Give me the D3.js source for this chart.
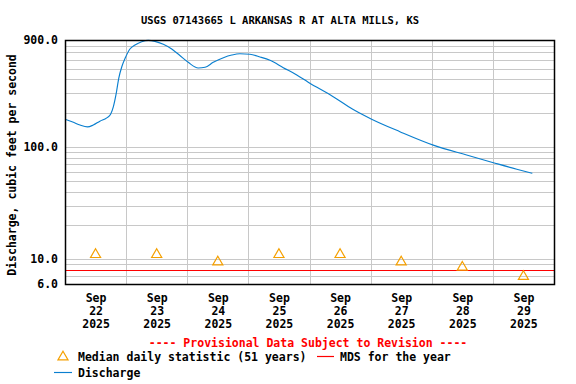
<!DOCTYPE html>
<html>
<head>
<meta charset="utf-8">
<script src="https://cdn.jsdelivr.net/npm/d3@7"></script>
<style>
  body { margin: 0; background: #fff; }
  text { font-family: "DejaVu Sans Mono", monospace; font-weight: bold; }
</style>
</head>
<body>
<script>
// Données
const title = "USGS 07143665 L ARKANSAS R AT ALTA MILLS, KS"
const yLabel = "Discharge, cubic feet per second"

// heures depuis le 22 sept. 00:00 / débit (pi3/s)
const dischargeHours = [0, 3.3, 5.9, 8.8, 11.1, 13.7, 16.4, 17.9, 19.0, 20.0, 21.1, 22.3, 23.6, 25.5, 27.5, 30.1, 32.7, 35.3, 38.6, 41.9, 44.9, 48.4, 52.3, 55.0, 58.2, 62.2, 65.5, 68.7, 72.6, 76.6, 80.5, 85.7, 91.0, 95.5, 105.3, 113.0, 120.4, 131.5, 144.6, 157.7, 168.2, 177.4, 183.5]
const dischargeCfs = [177, 166, 157, 151, 157, 170, 182, 196, 229, 291, 410, 520, 618, 748, 812, 869, 894, 876, 824, 748, 661, 569, 506, 514, 569, 626, 661, 679, 671, 635, 593, 510, 439, 378, 281, 217, 177, 137, 104, 84.8, 72.4, 63.3, 58.3]

const medianDays = ["2025-09-22", "2025-09-23", "2025-09-24", "2025-09-25", "2025-09-26", "2025-09-27", "2025-09-28", "2025-09-29"]
const medianCfs = [11.3, 11.3, 9.7, 11.3, 11.3, 9.7, 8.7, 7.2]

const mdsValue = 7.95

const yTickValues = [6, 10, 100, 900]
const yGridValues = [7, 8, 9, 10, 20, 30, 40, 50, 60, 70, 80, 90, 100, 200, 300, 400, 500, 600, 700, 800]

// Dimensions
const width = 576, height = 384
const margin = { top: 40, right: 22, bottom: 100, left: 65 }
const plotW = width - margin.left - margin.right
const plotH = height - margin.top - margin.bottom

const svg = d3.select("body").append("svg")
    .attr("width", width)
    .attr("height", height)

const parse = d3.timeParse("%Y-%m-%d")
const start = parse("2025-09-22")
const end = parse("2025-09-30")

const x = d3.scaleTime()
    .domain([start, end])
    .range([margin.left, margin.left + plotW])

const y = d3.scaleLog()
    .domain([6, 900])
    .range([margin.top + plotH, margin.top])

// Grille horizontale
svg.append("g")
    .selectAll("line")
    .data(yGridValues)
    .join("line")
    .attr("x1", margin.left)
    .attr("x2", margin.left + plotW)
    .attr("y1", d => Math.round(y(d)) + 0.5)
    .attr("y2", d => Math.round(y(d)) + 0.5)
    .attr("stroke", "#c8c8c8")
    .attr("stroke-width", 1)

// Grille verticale (minuit de chaque jour)
const dayBreaks = d3.timeDay.range(d3.timeDay.offset(start, 1), end)
svg.append("g")
    .selectAll("line")
    .data(dayBreaks)
    .join("line")
    .attr("x1", d => Math.round(x(d)) + 0.5)
    .attr("x2", d => Math.round(x(d)) + 0.5)
    .attr("y1", margin.top)
    .attr("y2", margin.top + plotH)
    .attr("stroke", "#c8c8c8")
    .attr("stroke-width", 1)

// Ligne MDS
svg.append("line")
    .attr("x1", margin.left)
    .attr("x2", margin.left + plotW)
    .attr("y1", Math.round(y(mdsValue)) + 0.5)
    .attr("y2", Math.round(y(mdsValue)) + 0.5)
    .attr("stroke", "#ff0000")
    .attr("stroke-width", 1.2)

// Débit
const discharge = dischargeHours.map((h, i) => ({ t: d3.timeMinute.offset(start, Math.round(h * 60)), v: dischargeCfs[i] }))
svg.append("path")
    .datum(discharge)
    .attr("fill", "none")
    .attr("stroke", "#0a7fcf")
    .attr("stroke-width", 1.15)
    .attr("d", d3.line()
        .x(d => x(d.t))
        .y(d => y(d.v))
        .curve(d3.curveMonotoneX))

// Triangles des médianes (décalés pour centrer la boîte sur la valeur)
const tri = d3.symbol().type(d3.symbolTriangle).size(44)
svg.append("g")
    .selectAll("path")
    .data(medianDays.map((d, i) => ({ t: d3.timeHour.offset(parse(d), 12), v: medianCfs[i] })))
    .join("path")
    .attr("d", tri)
    .attr("transform", d => `translate(${x(d.t)},${y(d.v) + 1.4})`)
    .attr("fill", "none")
    .attr("stroke", "#f5a000")
    .attr("stroke-width", 1.2)

// Cadre
svg.append("rect")
    .attr("x", margin.left + 0.5)
    .attr("y", margin.top + 0.5)
    .attr("width", plotW)
    .attr("height", plotH)
    .attr("fill", "none")
    .attr("stroke", "#000")
    .attr("stroke-width", 1.5)

// Axe Y
const yAxis = svg.append("g")
    .attr("transform", `translate(${margin.left - 7},0)`)
    .call(d3.axisLeft(y).tickValues(yTickValues).tickFormat(d3.format(".1f")).tickSize(0))
yAxis.select(".domain").remove()
yAxis.selectAll("text")
    .attr("x", 0)
    .style("font-size", "11.5px")
    .style("font-family", "DejaVu Sans Mono")
    .style("font-weight", "bold")
    .attr("fill", "#000")

// Axe X : Sep / jour / année
const xTicks = medianDays.map(d => d3.timeHour.offset(parse(d), 12))
const xAxis = svg.append("g")
    .attr("transform", `translate(0,${margin.top + plotH})`)
    .call(d3.axisBottom(x).tickValues(xTicks).tickSize(0).tickFormat(""))
xAxis.select(".domain").remove()
xAxis.selectAll(".tick").each(function (d) {
    const t = d3.select(this).append("text")
        .attr("text-anchor", "middle")
        .attr("fill", "#000")
        .style("font-size", "11.5px")
    const lines = [d3.timeFormat("%b")(d), d3.timeFormat("%d")(d), d3.timeFormat("%Y")(d)]
    lines.forEach((l, i) => {
        t.append("tspan").attr("x", 0).attr("y", 18 + i * 13).text(l)
    })
})

// Titre
svg.append("text")
    .attr("x", 280)
    .attr("y", 24)
    .attr("text-anchor", "middle")
    .style("font-size", "10.5px")
    .text(title)

// Titre axe Y
svg.append("text")
    .attr("transform", `translate(16,165) rotate(-90)`)
    .attr("text-anchor", "middle")
    .style("font-size", "11.5px")
    .text(yLabel)

// Légende
svg.append("text")
    .attr("x", 308)
    .attr("y", 347)
    .attr("text-anchor", "middle")
    .attr("fill", "#ff0000")
    .style("font-size", "11.5px")
    .text("---- Provisional Data Subject to Revision ----")

svg.append("path")
    .attr("d", tri)
    .attr("transform", "translate(63,357)")
    .attr("fill", "none")
    .attr("stroke", "#f5a000")
    .attr("stroke-width", 1.2)
svg.append("text")
    .attr("x", 78)
    .attr("y", 361)
    .style("font-size", "11.5px")
    .text("Median daily statistic (51 years)")

svg.append("line")
    .attr("x1", 317).attr("x2", 334)
    .attr("y1", 356.5).attr("y2", 356.5)
    .attr("stroke", "#ff0000")
    .attr("stroke-width", 1.2)
svg.append("text")
    .attr("x", 340)
    .attr("y", 361)
    .style("font-size", "11.5px")
    .text("MDS for the year")

svg.append("line")
    .attr("x1", 54).attr("x2", 72)
    .attr("y1", 372.5).attr("y2", 372.5)
    .attr("stroke", "#0a7fcf")
    .attr("stroke-width", 1.15)
svg.append("text")
    .attr("x", 78)
    .attr("y", 377)
    .style("font-size", "11.5px")
    .text("Discharge")
</script>
</body>
</html>
